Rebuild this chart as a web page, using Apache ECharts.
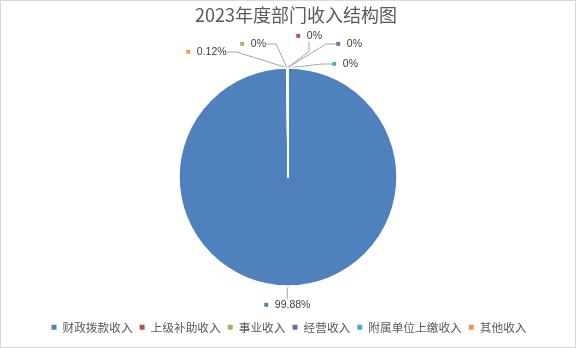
<!DOCTYPE html>
<html>
<head>
<meta charset="utf-8">
<script src="https://cdn.jsdelivr.net/npm/echarts@6/dist/echarts.min.js"></script>
<style>
  html, body { margin: 0; padding: 0; background: #fff; }
  #chart { width: 574px; height: 346px; border: 1px solid #d9d9d9; }
</style>
</head>
<body>
<div id="chart"></div>
<script>
// 2023年度部门收入结构
const categories = ['财政拨款收入', '上级补助收入', '事业收入', '经营收入', '附属单位上缴收入', '其他收入'];
const values = [99.88, 0, 0, 0, 0, 0.12];
const colors = ['#4F81BD', '#C0504D', '#9BBB59', '#8064A2', '#4BACC6', '#F79646'];

// label anchor placement per slice (label box left/middle)
const labelSpots = [
  { x: 263, y: 304 },
  { x: 295, y: 35 },
  { x: 239, y: 43 },
  { x: 335, y: 43 },
  { x: 331, y: 63 },
  { x: 185, y: 51 }
];

const chart = echarts.init(document.getElementById('chart'), null, { renderer: 'canvas' });

const seriesData = categories.map((name, i) => ({
  name,
  value: values[i],
  itemStyle: { color: colors[i] },
  label: {
    rich: {
      m: { color: colors[i], fontSize: 8, padding: [0, 6, 0, 0] },
      v: { color: '#404040', fontSize: 10.5, fontFamily: 'Liberation Sans, Arial, sans-serif' }
    }
  }
}));

chart.setOption({
  animation: false,
  title: {
    text: '2023年度部门收入结构图',
    left: 194,
    top: 5,
    padding: 0,
    textStyle: {
      fontSize: 18,
      fontWeight: 'normal',
      color: '#595959',
      fontFamily: 'Noto Sans CJK SC, sans-serif'
    }
  },
  legend: {
    bottom: 9,
    left: 'center',
    icon: 'rect',
    itemWidth: 7,
    itemHeight: 7,
    itemGap: 5,
    textStyle: {
      fontSize: 11.7,
      color: '#595959',
      fontFamily: 'Noto Sans CJK SC, sans-serif'
    },
    data: categories
  },
  series: [{
    type: 'pie',
    center: [287, 176],
    radius: 109,
    startAngle: 90,
    clockwise: true,
    avoidLabelOverlap: false,
    itemStyle: { borderColor: '#ffffff', borderWidth: 1.5 },
    label: {
      show: true,
      position: 'outside',
      formatter: p => '{m|■}{v|' + p.percent + '%}'
    },
    labelLine: {
      show: true,
      length: 10,
      length2: 10,
      smooth: false,
      lineStyle: { color: '#a6a6a6', width: 1 }
    },
    labelLayout: params => {
      const s = labelSpots[params.dataIndex];
      return { x: s.x, y: s.y, align: 'left', verticalAlign: 'middle' };
    },
    emphasis: { disabled: true },
    data: seriesData
  }]
});
</script>
</body>
</html>
